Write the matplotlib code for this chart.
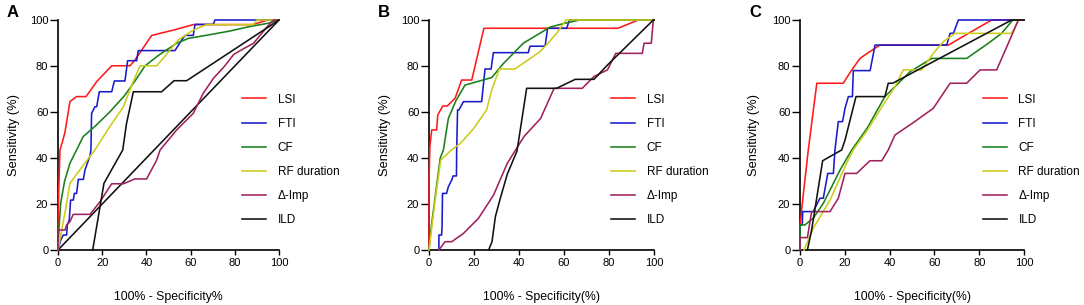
import matplotlib
matplotlib.use("Agg")
import matplotlib.pyplot as plt

plt.rcParams['font.family'] = ['Liberation Sans', 'DejaVu Sans']

# ROC points, (100% - specificity, sensitivity)
lsi_a = [(0, 0), (0.3, 25), (0.9, 43.5), (2, 47), (3.2, 51.4), (5.4, 64.5), (8.4, 66.7), (12.7, 66.7),
         (17.5, 73.2), (24.3, 80.1), (32.6, 80.1), (34.8, 82.6), (42.4, 93.3), (52.2, 95.6), (61.2, 98),
         (88, 98), (95, 100), (100, 100)]
fti_a = [(0, 0), (1.2, 4.3), (2.4, 6.5), (3.9, 6.5), (4.2, 10.9), (5.1, 13), (5.7, 21.7), (6.9, 21.7),
         (7.4, 24.6), (8.4, 24.6), (9.2, 30.7), (11.5, 30.7), (12.2, 34.8), (14.5, 41), (14.9, 43.5),
         (15.2, 59.4), (16.7, 62.3), (17.5, 62.3), (18.7, 68.8), (24.3, 68.8), (25.5, 73.5), (30.3, 73.5),
         (31.5, 82.3), (35.6, 82.3), (36.3, 86.7), (52.9, 86.7), (56, 91.3), (57.5, 93.3), (61.2, 93.3),
         (62, 98.1), (70.3, 98.1), (71, 100), (100, 100)]
cf_a = [(0, 0), (0.5, 10), (1.2, 20.3), (3, 30), (5.4, 37.7), (8.4, 43.5), (11.4, 49.3), (17, 54),
        (23.5, 60.1), (30, 67), (34.5, 73), (39.4, 80.1), (46, 85), (53.7, 89.9), (59, 92), (68, 93.5),
        (77.8, 95.2), (86, 97), (94.6, 98.5), (100, 100)]
rf_a = [(0, 0), (1.7, 8.7), (3.5, 18), (5.4, 29), (10, 35), (16.7, 43.5), (23, 53), (29.6, 62.3),
        (33.5, 72), (37.1, 80.1), (44.7, 80.1), (49, 85), (54.4, 91.3), (61.2, 95.6), (67.3, 98),
        (88.5, 98), (90, 100), (100, 100)]
imp_a = [(0, 0), (0, 8.7), (3.2, 8.7), (3.9, 10.9), (5.4, 12.3), (6.9, 15.5), (14.5, 15.5), (19, 21),
         (24.3, 28.8), (29.6, 28.8), (34.8, 30.9), (40.1, 30.9), (44.6, 39), (46.2, 43.5), (53.7, 52.2),
         (61.2, 59.4), (65.7, 68.1), (70.3, 74.6), (75, 79.5), (79.5, 85), (83, 87), (88.5, 89.9),
         (94.6, 97), (97.6, 100), (100, 100)]
ild_a = [(15.7, 0), (20.8, 29), (29.3, 43.5), (31, 55), (34.1, 68.8), (46.9, 68.8), (52.5, 73.6),
         (58.2, 73.6), (100, 100)]

lsi_b = [(0, 0), (0, 30), (0.4, 45), (1.2, 52.2), (3.4, 52.2), (3.9, 58.7), (6.1, 62.6), (8.1, 62.6),
         (11.6, 66), (14.5, 73.9), (19, 73.9), (24.4, 96.4), (84, 96.4), (93, 100), (100, 100)]
fti_b = [(4.4, 0), (4.4, 6.5), (5.6, 6.5), (5.8, 10.1), (6, 24.6), (7.8, 24.6), (8.6, 27.5), (10.1, 30.4),
         (10.7, 32.2), (12.2, 32.2), (12.3, 43.5), (12.7, 60.9), (13.3, 60.9), (15.3, 64.5), (23.4, 64.5),
         (24.9, 78.7), (27.6, 78.7), (28.6, 85.8), (44.1, 85.8), (44.9, 88.6), (51.6, 88.6), (52.7, 96.4),
         (61.2, 96.4), (62.4, 100), (100, 100)]
cf_b = [(0, 0), (1, 10), (3, 25), (5, 40), (6.4, 43.5), (8.6, 57.2), (12, 65), (16, 71.7), (27.9, 75),
        (33, 81), (41.9, 89.9), (53.8, 96.9), (60, 98.5), (67.1, 100), (100, 100)]
rf_b = [(0, 0), (2.5, 20), (5.2, 39.1), (10, 43.5), (14, 46.4), (20, 53), (25.6, 60.9), (28, 70),
        (31.3, 78.7), (38.2, 78.7), (49.3, 86.2), (53, 90), (56.7, 94.2), (60.9, 100), (100, 100)]
imp_b = [(4.4, 0), (7.1, 3.6), (10.1, 3.6), (15.3, 7.2), (22, 13.8), (28.7, 23.9), (34.8, 37.7),
         (42.2, 49.3), (49.6, 57.2), (55.6, 70.3), (68.1, 70.3), (73.3, 75.4), (79.3, 78.3), (83, 85.5),
         (94.8, 85.5), (95.6, 89.9), (98.8, 89.9), (99.7, 100), (100, 100)]
ild_b = [(26.5, 0), (28, 3.6), (29.5, 14.5), (31.7, 22.5), (34.8, 33), (39.1, 43), (41, 55), (43.4, 70.3),
         (56.7, 70.3), (65, 74.2), (73.3, 74.2), (79.3, 80.4), (99.7, 100), (100, 100)]

lsi_c = [(0, 0), (0, 10), (1, 20), (3.7, 43.5), (7.5, 72.5), (19.3, 72.5), (23.1, 78.3), (26.8, 83.3),
         (30, 85.5), (35.7, 89.1), (66.3, 89.1), (75.2, 94.2), (85.6, 100), (100, 100)]
fti_c = [(0, 0), (0, 10.9), (1, 10.9), (1.2, 16.7), (5.9, 16.7), (7.4, 19.6), (8.9, 22.5), (10.4, 22.5),
         (12.4, 33.3), (14.9, 33.3), (15.6, 43.5), (17.1, 55.8), (19, 55.8), (20.1, 61.6), (21.6, 66.7),
         (23.4, 66.7), (23.8, 78), (31.3, 78), (33.5, 89.1), (65.5, 89.1), (67, 94.2), (68.5, 94.2),
         (70.7, 100), (100, 100)]
cf_c = [(0, 0), (0, 10.9), (2.2, 10.9), (5.9, 13.8), (10.4, 20.3), (17.9, 34.8), (23.1, 43.5), (30, 53),
        (37.9, 66.7), (49.1, 77.5), (58.8, 83.3), (74.4, 83.3), (84.1, 89.9), (90, 94.2), (95, 100),
        (100, 100)]
rf_c = [(1.8, 0), (5.9, 9.4), (13.4, 21.7), (20.8, 37.7), (23.8, 43.5), (30, 52), (35.7, 60.9), (42.4, 71),
        (46.1, 78.3), (54.3, 78.3), (59.5, 85.5), (64, 90.6), (69.2, 94.2), (94.5, 94.2), (97.5, 100),
        (100, 100)]
imp_c = [(0, 0), (0, 5.4), (3.3, 5.4), (5.2, 16.7), (13.4, 16.7), (17.1, 22.5), (20.1, 33.3), (25.3, 33.3),
         (31.2, 38.8), (36.5, 38.8), (39.4, 43.5), (42.4, 50), (50, 55), (59.5, 61.6), (67, 72.5),
         (74.4, 72.5), (80.4, 78.3), (87.8, 78.3), (93, 89.9), (97.5, 100), (100, 100)]
ild_c = [(3.3, 0), (5.2, 8.7), (10.1, 38.8), (18.6, 43.5), (20.1, 47.8), (25, 66.7), (37.9, 66.7),
         (39.4, 72.5), (41.4, 72.5), (94.5, 100), (100, 100)]

chance_line = [(0, 0), (100, 100)]

labels = ["LSI", "FTI", "CF", "RF duration", "\u0394-Imp", "ILD"]
colors = ["#ff1a1a", "#1a1acc", "#1a801a", "#cccc1a", "#a0215e", "#111111"]
panels = ["A", "B", "C"]
xlabels = ["100% - Specificity%", "100% - Specificity(%)", "100% - Specificity(%)"]
curves = [[lsi_a, fti_a, cf_a, rf_a, imp_a, ild_a],
          [lsi_b, fti_b, cf_b, rf_b, imp_b, ild_b],
          [lsi_c, fti_c, cf_c, rf_c, imp_c, ild_c]]
ticks = [0, 20, 40, 60, 80, 100]

W, H = 1084, 305
fig = plt.figure(figsize=(W / 100, H / 100), dpi=100)
lefts = [58, 429, 800]
widths = [221, 225, 224]
legend_x = [0.833, 0.81, 0.817]
ylabel_x = [-0.172, -0.169, -0.179]

for i in range(3):
    ax = fig.add_axes([lefts[i] / W, 55 / H, widths[i] / W, 230 / H])
    for pts, lab, col in zip(curves[i], labels, colors):
        xs = [p[0] for p in pts]
        ys = [p[1] for p in pts]
        ax.plot(xs, ys, color=col, lw=1.15, label=lab, clip_on=False, zorder=3)
    if i == 0:
        ax.plot([p[0] for p in chance_line], [p[1] for p in chance_line], color="#111111", lw=1.15,
                clip_on=False, zorder=2)
    ax.set_xlim(0, 100)
    ax.set_ylim(0, 100)
    ax.set_xticks(ticks)
    ax.set_yticks(ticks)
    ax.spines['top'].set_visible(False)
    ax.spines['right'].set_visible(False)
    for s in ['left', 'bottom']:
        ax.spines[s].set_linewidth(1.2)
    ax.tick_params(axis='both', width=1.0, labelsize=8)
    ax.tick_params(axis='y', length=5.5, pad=1.5)
    ax.tick_params(axis='x', length=3.5, pad=2.5)
    ax.set_xlabel(xlabels[i], fontsize=8.8, labelpad=16)
    ax.set_ylabel("Sensitivity (%)", fontsize=9.3)
    ax.yaxis.set_label_coords(ylabel_x[i], 0.5)
    ax.legend(loc="upper left", bbox_to_anchor=(legend_x[i], 0.68), frameon=False, fontsize=8.5,
              handlelength=2.0, handletextpad=1.0, labelspacing=1.03, borderpad=0, borderaxespad=0)
    fig.text((lefts[i] - 51) / W, 1 - 5 / H, panels[i], fontsize=12, fontweight="bold", va="top")

fig.savefig("out.png", dpi=100)
